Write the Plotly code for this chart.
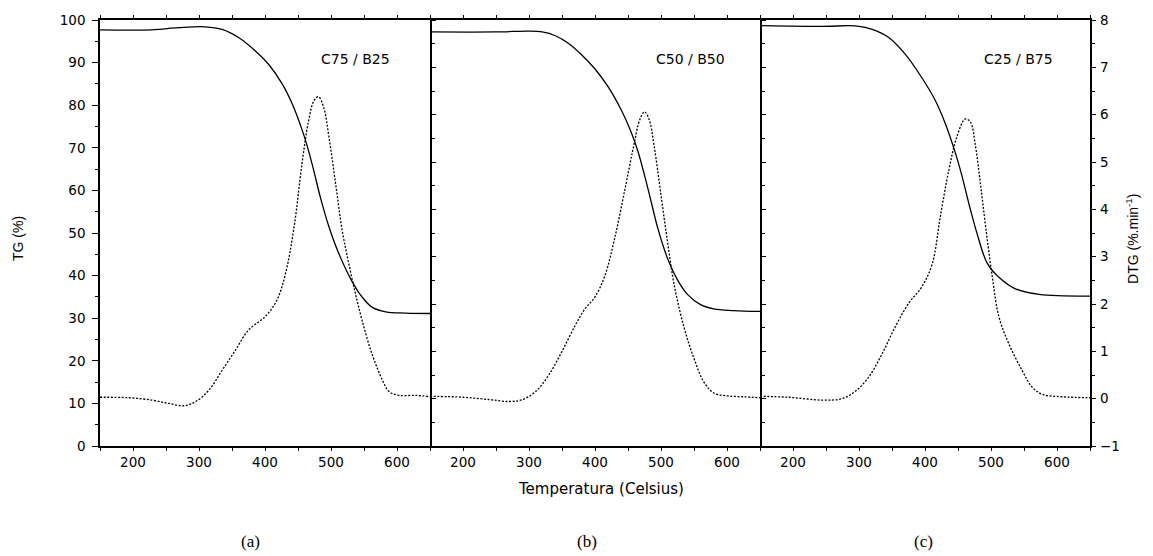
import plotly.graph_objects as go

# ---------------- data ----------------
panel_labels = ["C75 / B25", "C50 / B50", "C25 / B75"]
sub_labels = ["(a)", "(b)", "(c)"]
x_ticks = [200, 300, 400, 500, 600]

# Panel (a) C75/B25
a_tg_T = [150, 228, 269, 309, 335, 360, 385, 406, 426, 441, 454, 464, 474, 484, 497, 512, 532, 547, 562, 583, 613, 650]
a_tg = [97.7, 97.7, 98.2, 98.4, 97.8, 95.9, 92.8, 89.5, 85.0, 80.4, 75.2, 70.4, 64.6, 58.3, 51.4, 45.1, 38.6, 35.0, 32.6, 31.5, 31.2, 31.1]
a_dtg_T = [150, 193, 228, 254, 277, 294, 315, 335, 355, 375, 400, 418, 431, 444, 456, 466, 474, 481, 489, 497, 507, 517, 527, 537, 547, 562, 578, 588, 603, 628, 650]
a_dtg = [0.03, 0.02, -0.03, -0.10, -0.15, -0.07, 0.18, 0.60, 1.02, 1.45, 1.73, 2.08, 2.64, 3.62, 4.96, 5.87, 6.29, 6.38, 6.15, 5.52, 4.54, 3.55, 2.85, 2.22, 1.66, 0.95, 0.39, 0.15, 0.07, 0.07, 0.04]

# Panel (b) C50/B50
b_tg_T = [150, 250, 300, 320, 340, 360, 380, 400, 420, 440, 455, 465, 475, 485, 495, 510, 525, 540, 560, 580, 610, 650]
b_tg = [97.2, 97.2, 97.4, 97.2, 96.3, 94.5, 91.8, 88.5, 84.3, 78.8, 73.6, 69.2, 63.6, 57.4, 51.2, 44.0, 39.0, 35.6, 33.2, 32.2, 31.8, 31.6]
b_dtg_T = [150, 200, 240, 270, 290, 310, 330, 350, 370, 385, 400, 415, 430, 445, 458, 468, 475, 482, 490, 500, 510, 520, 535, 550, 565, 580, 600, 625, 650]
b_dtg = [0.05, 0.03, -0.02, -0.06, -0.02, 0.15, 0.50, 1.00, 1.55, 1.90, 2.15, 2.60, 3.40, 4.40, 5.30, 5.90, 6.06, 5.90, 5.30, 4.30, 3.30, 2.40, 1.50, 0.85, 0.35, 0.12, 0.06, 0.04, 0.02]

# Panel (c) C25/B75
c_tg_T = [150, 244, 294, 320, 345, 370, 395, 416, 431, 446, 456, 466, 479, 494, 512, 537, 573, 650]
c_tg = [98.7, 98.5, 98.6, 97.8, 95.9, 92.0, 86.5, 81.0, 75.6, 68.8, 63.4, 57.2, 49.8, 43.0, 39.6, 36.9, 35.6, 35.2]
c_dtg_T = [150, 193, 244, 274, 294, 315, 335, 355, 375, 395, 411, 423, 436, 448, 461, 469, 476, 484, 492, 502, 512, 527, 547, 562, 578, 608, 650]
c_dtg = [0.05, 0.03, -0.03, 0.0, 0.15, 0.46, 0.95, 1.52, 2.01, 2.36, 2.85, 3.83, 4.82, 5.52, 5.91, 5.84, 5.38, 4.54, 3.62, 2.57, 1.73, 1.16, 0.60, 0.25, 0.09, 0.04, 0.02]

tg_T = [a_tg_T, b_tg_T, c_tg_T]
tg_vals = [a_tg, b_tg, c_tg]
dtg_T = [a_dtg_T, b_dtg_T, c_dtg_T]
dtg_vals = [a_dtg, b_dtg, c_dtg]

# ---------------- figure ----------------
W, H = 1153, 556
L, R, T, B = 100, 63, 18, 110
pw = W - L - R
ph = H - T - B

def px(xp):
    return (xp - L) / pw

def py(yp):
    return (H - B - yp) / ph

fig = go.Figure()
xnames = ["x", "x2", "x3"]
dtg_axes = ["y2", "y3", "y4"]

for i in range(3):
    fig.add_trace(go.Scatter(x=tg_T[i], y=tg_vals[i], xaxis=xnames[i], yaxis="y",
                             mode="lines", line=dict(color="black", width=1.3, shape="spline", smoothing=1.0),
                             showlegend=False, hoverinfo="skip"))
    fig.add_trace(go.Scatter(x=dtg_T[i], y=dtg_vals[i], xaxis=xnames[i], yaxis=dtg_axes[i],
                             mode="lines", line=dict(color="black", width=1.3, dash="2px,1.6px", shape="spline", smoothing=1.0),
                             showlegend=False, hoverinfo="skip"))

tickfont = dict(family="DejaVu Sans", size=13.5, color="black")
third = 1 / 3
domains = [[0, third], [third, 2 * third], [2 * third, 1]]

xcommon = dict(range=[150, 650], tickmode="array", tickvals=x_ticks, ticks="outside", ticklen=3,
               tickwidth=1, tickcolor="black", showline=True, linecolor="black", linewidth=1.5,
               mirror="allticks", showgrid=False, zeroline=False, tickfont=tickfont,
               minor=dict(tickmode="array", tickvals=[150, 250, 350, 450, 550, 650], ticks="outside",
                          ticklen=3, tickcolor="black", showgrid=False),
               anchor="y")
layout = dict(width=W, height=H, margin=dict(l=L, r=R, t=T, b=B),
              paper_bgcolor="white", plot_bgcolor="rgba(0,0,0,0)", showlegend=False)
layout["xaxis"] = dict(xcommon, domain=domains[0])
layout["xaxis2"] = dict(xcommon, domain=domains[1])
layout["xaxis3"] = dict(xcommon, domain=domains[2])

layout["yaxis"] = dict(range=[0, 100], dtick=10, tick0=0, ticks="outside", ticklen=6, tickwidth=1,
                       tickcolor="black", showline=True, linecolor="black", linewidth=1.5,
                       showgrid=False, zeroline=False, tickfont=tickfont, ticklabelstandoff=4,
                       minor=dict(dtick=5, ticks="outside", ticklen=3.5, tickcolor="black", showgrid=False),
                       anchor="x", side="left")
# inner ticks on left frame of panel (a)
layout["yaxis5"] = dict(range=[0, 100], dtick=5, tick0=0, ticks="inside", ticklen=2.5, tickwidth=1,
                        tickcolor="black", showline=False, showticklabels=False, showgrid=False,
                        zeroline=False, anchor="x", side="left", overlaying="y")

for k, (ax, xa) in enumerate(zip(["yaxis2", "yaxis3", "yaxis4"], xnames)):
    layout[ax] = dict(range=[-1, 8], dtick=1, tick0=0, ticks="outside", ticklen=4.5, tickwidth=1,
                      tickcolor="black", showline=True, linecolor="black", linewidth=1.5,
                      showgrid=False, zeroline=False, tickfont=tickfont,
                      showticklabels=(k == 2), ticklabelstandoff=1,
                      minor=dict(dtick=0.5, ticks="outside", ticklen=3, tickcolor="black", showgrid=False),
                      anchor=xa, side="right", overlaying="y")

fig.update_layout(**layout)

anns = []
label_font = dict(family="DejaVu Sans", size=14, color="black")
label_x = [355, 690, 1018]
for i in range(3):
    anns.append(dict(text=panel_labels[i], x=px(label_x[i]), y=py(57), xref="paper", yref="paper",
                     showarrow=False, font=label_font, xanchor="center", yanchor="middle"))
sub_x = [250, 587, 923]
for i in range(3):
    anns.append(dict(text=sub_labels[i], x=px(sub_x[i]), y=py(542), xref="paper", yref="paper",
                     showarrow=False, font=dict(family="Liberation Serif", size=17, color="black"),
                     xanchor="center", yanchor="middle"))
anns.append(dict(text="Temperatura (Celsius)", x=px(601), y=py(489), xref="paper", yref="paper",
                 showarrow=False, font=dict(family="DejaVu Sans", size=15, color="black"),
                 xanchor="center", yanchor="middle"))
narrow = "Liberation Sans Narrow, Arial Narrow, Liberation Sans"
anns.append(dict(text="TG (%)", x=px(18), y=py(238), xref="paper", yref="paper", textangle=-90,
                 showarrow=False, font=dict(family=narrow, size=14, color="black"),
                 xanchor="center", yanchor="middle"))
anns.append(dict(text="DTG (%.min<sup>-1</sup>)", x=px(1132), y=py(238), xref="paper", yref="paper",
                 textangle=-90, showarrow=False, font=dict(family=narrow, size=14, color="black"),
                 xanchor="center", yanchor="middle"))
fig.update_layout(annotations=anns)

fig.write_html("out.html")
